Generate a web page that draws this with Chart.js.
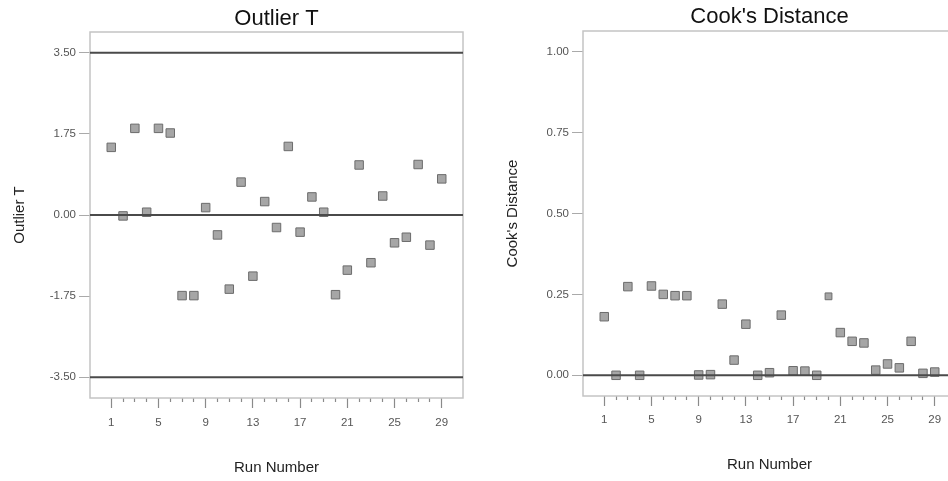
<!DOCTYPE html>
<html><head><meta charset="utf-8">
<script src="https://cdn.jsdelivr.net/npm/chart.js@4"></script>
<style>
html,body{margin:0;padding:0;background:#fff;overflow:hidden;width:948px;height:481px;}
canvas{position:absolute;top:0;}
#c1{left:0;} #c2{left:474px;}
</style></head><body>
<canvas id="c1" width="474" height="481"></canvas>
<canvas id="c2" width="500" height="481"></canvas>
<script>
// ---- data ----
const runNumbers = [1,2,3,4,5,6,7,8,9,10,11,12,13,14,15,16,17,18,19,20,21,22,23,24,25,26,27,28,29];
const xTickLabels = [1,5,9,13,17,21,25,29];
const outlierT = [1.46,-0.02,1.87,0.06,1.87,1.77,-1.74,-1.74,0.16,-0.43,-1.60,0.71,-1.32,0.29,-0.27,1.48,-0.37,0.39,0.06,-1.72,-1.19,1.08,-1.03,0.41,-0.60,-0.48,1.09,-0.65,0.78];
const cooksD = [0.181,0.000,0.274,0.000,0.276,0.250,0.246,0.246,0.001,0.002,0.220,0.047,0.158,0.000,0.008,0.186,0.014,0.013,0.000,0.244,0.132,0.105,0.100,0.016,0.035,0.023,0.105,0.006,0.010];
const outlierLimits = [3.5, 0, -3.5];
const cookLimits = [0];
const outlierTicks = [-3.5,-1.75,0,1.75,3.5];
const cookTicks = [0,0.25,0.5,0.75,1];
const X_MIN = -0.8, X_MAX = 30.8;

Chart.defaults.font.family = "'Liberation Sans', Arial, sans-serif";
Chart.defaults.animation = false;

const boxPlugin = {
  id: 'box',
  beforeDatasetsDraw(chart) {
    const {ctx, chartArea: a} = chart;
    ctx.save();
    ctx.strokeStyle = '#c4c4c4';
    ctx.lineWidth = 1.5;
    ctx.strokeRect(a.left, a.top, a.right - a.left, a.bottom - a.top);
    ctx.restore();
  }
};

function makeChart(id, o) {
  const datasets = [{
    type: 'scatter',
    data: runNumbers.map((r, i) => ({x: r, y: o.values[i]})),
    pointStyle: 'rect',
    pointRadius: o.radius || 6,
    backgroundColor: '#a6a6a6',
    borderColor: '#6c6c6c',
    borderWidth: 1,
    order: 1
  }];
  o.limits.forEach(v => datasets.push({
    type: 'line',
    data: [{x: X_MIN, y: v}, {x: X_MAX, y: v}],
    borderColor: '#4a4a4a',
    borderWidth: 2,
    pointRadius: 0,
    order: 0
  }));
  return new Chart(document.getElementById(id), {
    type: 'scatter',
    data: {datasets},
    options: {
      responsive: false,
      animation: false,
      layout: {padding: {left: 0, top: 0, bottom: 0, right: o.padRight}},
      plugins: {legend: {display: false}, tooltip: {enabled: false}},
      scales: {
        x: {
          type: 'linear', position: 'bottom', min: X_MIN, max: X_MAX,
          afterBuildTicks: s => { s.ticks = runNumbers.map(v => ({value: v})); },
          afterFit: s => { s.height = o.H - o.bottom; },
          ticks: {
            autoSkip: false, maxRotation: 0, padding: o.xTickPad,
            font: {size: 11.5}, color: '#555',
            callback: v => xTickLabels.includes(v) ? String(v) : ''
          },
          grid: {
            drawOnChartArea: false, drawTicks: true, tickLength: 10,
            tickColor: '#8a8a8a', tickWidth: 1.2,
            tickBorderDash: c => (c.tick && xTickLabels.includes(c.tick.value)) ? [] : [4, 50]
          },
          border: {display: false},
          title: {display: true, text: 'Run Number', font: {size: 15}, color: '#222',
                  padding: {top: 0, bottom: o.xTitlePad}}
        },
        x2: {
          type: 'linear', position: 'top', min: X_MIN, max: X_MAX,
          afterFit: s => { s.height = o.top; },
          ticks: {display: false},
          grid: {display: false},
          border: {display: false},
          title: {display: true, text: o.title, font: {size: 22}, color: '#111',
                  padding: {top: o.titlePad, bottom: 0}}
        },
        y: {
          type: 'linear', position: 'left', min: o.yMin, max: o.yMax,
          afterBuildTicks: s => { s.ticks = o.yTicks.map(v => ({value: v})); },
          afterFit: s => { s.width = o.left; },
          ticks: {padding: 3, font: {size: 11.5}, color: '#555',
                  callback: v => Number(v).toFixed(2)},
          grid: {drawOnChartArea: false, drawTicks: true, tickLength: 11,
                 tickColor: '#aaaaaa', tickWidth: 1},
          border: {display: false},
          title: {display: true, text: o.yTitle, font: {size: 15}, color: '#222',
                  padding: {top: o.yTitlePad, bottom: 0}}
        }
      }
    },
    plugins: [boxPlugin]
  });
}

makeChart('c1', {
  title: 'Outlier T', yTitle: 'Outlier T', values: outlierT, limits: outlierLimits,
  yTicks: outlierTicks, yMin: -3.95, yMax: 3.95,
  H: 481, left: 90, top: 32, bottom: 398, padRight: 11,
  yTitlePad: 11, xTitlePad: 4, titlePad: 5.5, xTickPad: 7.5
});

makeChart('c2', {
  title: "Cook's Distance", yTitle: "Cook's Distance", values: cooksD, limits: cookLimits,
  yTicks: cookTicks, yMin: -0.064, yMax: 1.064,
  H: 481, left: 109, top: 31, bottom: 396, padRight: 18,
  yTitlePad: 30, xTitlePad: 7, titlePad: 4, xTickPad: 6.5,
  radius: c => c.dataIndex === 19 ? 4.8 : 6
});
</script>
</body></html>
